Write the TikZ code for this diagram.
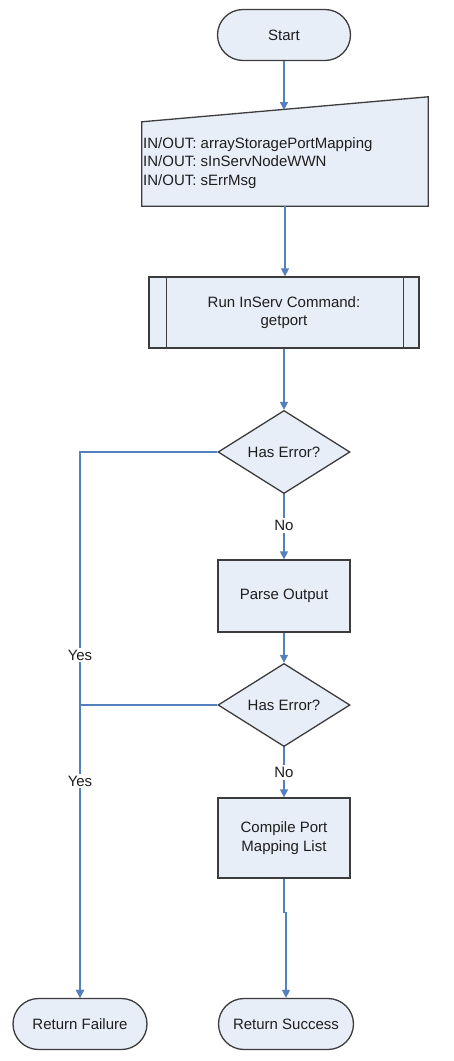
\documentclass[tikz,border=0pt]{standalone}
\usepackage{fontspec}
\setmainfont{Liberation Sans}
\usepackage{tikz}
\usetikzlibrary{shapes.geometric, shapes.misc, arrows.meta, positioning, calc}
\definecolor{FCFill}{RGB}{232, 238, 248}
\definecolor{FCBorder}{RGB}{60, 60, 60}
\definecolor{FCArrow}{RGB}{84, 128, 188}
\definecolor{FCText}{RGB}{30, 30, 30}

\begin{document}
\begin{tikzpicture}[x=1pt,y=-1pt,
  font=\fontsize{15}{18.5}\selectfont,
  base/.style={draw=FCBorder, fill=FCFill, line width=1.3pt, text=FCText, inner sep=0pt},
  terminal/.style={base, rounded rectangle, minimum height=51pt},
  procbox/.style={base, rectangle, minimum width=132pt, align=center},
  decision/.style={base, diamond, minimum width=132pt, minimum height=76pt},
  flow/.style={FCArrow, line width=1.4pt, -{Triangle[width=8pt,length=8pt]}},
  lbl/.style={fill=white, inner sep=2pt, text=FCText}]
  \path[use as bounding box] (0,0) rectangle (454,1061);

  % terminals
  \node[terminal, minimum width=133pt] (start) at (284,35) {Start};
  \node[terminal, minimum width=134pt] (fail) at (80,1024) {Return Failure};
  \node[terminal, minimum width=135pt] (succ) at (286,1024) {Return Success};

  % manual input
  \node[minimum width=286pt, minimum height=96pt, inner sep=0pt] (io) at (285,158) {};
  \filldraw[base] (io.south west) -- (io.south east) -- ([yshift=13pt]io.north east)
    -- ([yshift=-12pt]io.north west) -- cycle;
  \node[anchor=west, align=left, text=FCText, inner sep=0pt] (iotext) at (143,163) {
    IN/OUT: arrayStoragePortMapping\\
    IN/OUT: sInServNodeWWN\\
    IN/OUT: sErrMsg};
  \coordinate (iotop) at (284,110);

  % predefined process
  \node[procbox, minimum width=270pt, minimum height=71pt] (run) at (284,312.5) {Run InServ Command:\\getport};
  \draw[FCBorder, line width=1.3pt] ([xshift=18pt]run.north west) -- ([xshift=18pt]run.south west);
  \draw[FCBorder, line width=1.3pt] ([xshift=-16pt]run.north east) -- ([xshift=-16pt]run.south east);

  \node[decision] (err1) at (284,452) {Has Error?};
  \node[procbox, minimum height=72pt] (parse) at (284,596) {Parse Output};
  \node[decision] (err2) at (284,705) {Has Error?};
  \node[procbox, minimum height=80pt] (compile) at (284,838) {Compile Port\\Mapping List};

  % connectors
  \draw[flow] (start.south) -- (iotop);
  \draw[flow] (io.south) -- (io.south |- run.north);
  \draw[flow] (run.south) -- (err1.north);
  \draw[flow] (err1.south) -- node[lbl, pos=0.48] {No} (parse.north);
  \draw[flow] (parse.south) -- (err2.north);
  \draw[flow] (err2.south) -- node[lbl, pos=0.5] {No} (compile.north);
  \draw[flow] (compile.south) -- ++(0,34) -| (succ.north);
  \draw[flow] (err1.west) -| node[lbl, pos=0.686] {Yes} (fail.north);
  \draw[flow] (err2.west) -| node[lbl, pos=0.63] {Yes} (fail.north);
\end{tikzpicture}
\end{document}
